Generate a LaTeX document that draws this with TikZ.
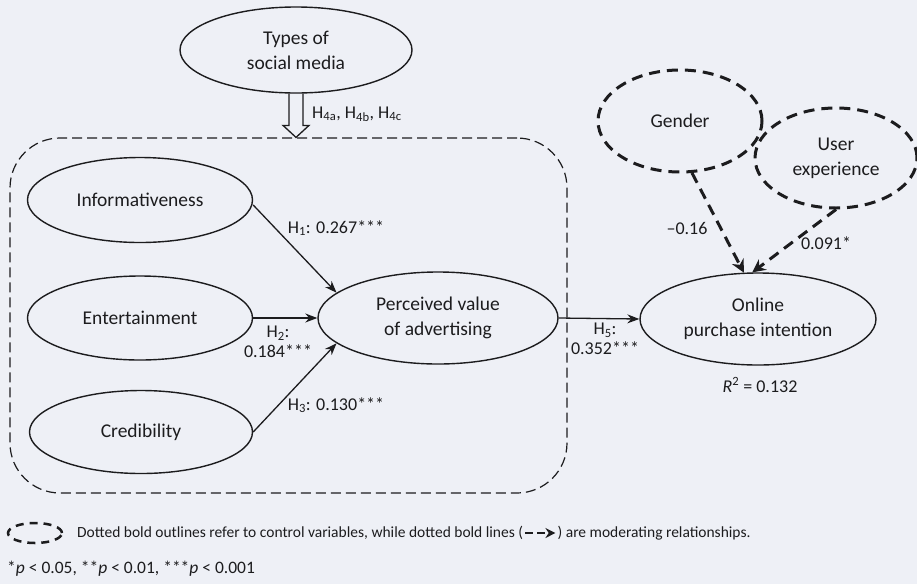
\documentclass[tikz,border=0pt]{standalone}
\usepackage{fontspec}
\setmainfont{Carlito}
\usetikzlibrary{shapes.geometric,arrows.meta,calc}
\definecolor{bgc}{RGB}{238,240,246}
\definecolor{ink}{RGB}{28,28,30}
\begin{document}
\begin{tikzpicture}[x=1pt,y=-1pt,
  every node/.style={text=ink},
  var/.style={ellipse,draw=ink,line width=1.4pt,inner sep=0pt,align=center,
              font=\fontsize{19.5}{25}\selectfont},
  ctrl/.style={ellipse,draw=ink,line width=3pt,dash pattern=on 11pt off 7pt,
               inner sep=0pt,align=center,font=\fontsize{19.5}{25}\selectfont},
  path1/.style={draw=ink,line width=1.3pt,-{Stealth[length=12pt,width=9pt]}},
  modline/.style={draw=ink,line width=3pt,dash pattern=on 11pt off 7pt,
                  -{Stealth[length=13pt,width=13pt]}},
  lab/.style={font=\fontsize{18}{20}\selectfont,inner sep=0pt,align=center},
  small/.style={font=\fontsize{15.5}{17}\selectfont,inner sep=0pt},
]
\fill[bgc] (0,0) rectangle (917,584);
\useasboundingbox (0,0) rectangle (917,584);

% group box
\node[draw=ink,line width=1.2pt,dash pattern=on 10pt off 5pt,rounded corners=50pt,
      minimum width=557pt,minimum height=355pt,inner sep=0pt] (grp) at (288.5,315.5) {};

% nodes
\node[var,minimum width=232pt,minimum height=86pt] (types) at (296,50) {Types of\\social media};
\node[var,minimum width=225pt,minimum height=85pt] (info) at (140,200) {Informativeness};
\node[var,minimum width=225pt,minimum height=84pt] (ent) at (140,318) {Entertainment};
\node[var,minimum width=223pt,minimum height=83pt] (cred) at (141,432) {Credibility};
\node[var,minimum width=240pt,minimum height=92pt] (perc) at (438,318) {Perceived value\\of advertising};
\node[var,minimum width=236pt,minimum height=92pt] (online) at (758,319) {Online\\purchase intention};
\node[ctrl,minimum width=164pt,minimum height=102pt] (gender) at (680,121) {Gender};
\node[ctrl,minimum width=162pt,minimum height=100pt] (ue) at (836,158) {User\\experience};

% hollow arrow H4
\coordinate (h4tip) at (types.south |- grp.north);
\draw[ink,line width=1.3pt,line join=miter]
  ($(types.south)+(-7,0)$) -- ($(h4tip)+(-7,-12)$) -- ($(h4tip)+(-13,-12)$) -- (h4tip)
  -- ($(h4tip)+(13,-12)$) -- ($(h4tip)+(7,-12)$) -- ($(types.south)+(7,0)$);
\node[lab,anchor=west] (h4lab) at (312,114) {H\textsubscript{4a}, H\textsubscript{4b}, H\textsubscript{4c}};

% paths
\draw[path1] (info.east) ++(0,5) coordinate (infostart) (infostart) -- (perc.166);
\draw[path1] (ent.east) -- (perc.west);
\draw[path1] (cred.east) -- (perc.194);
\draw[path1] (perc.east) -- (online.west);

\node[lab] (h1lab) at (336,228) {H\textsubscript{1}: 0.267***};
\node[lab] (h2lab) at (278,342) {H\textsubscript{2}:\\0.184***};
\node[lab] (h3lab) at (336,405) {H\textsubscript{3}: 0.130***};
\node[lab] (h5lab) at (605,339) {H\textsubscript{5}:\\0.352***};

% moderating
\draw[modline] (gender.-77) -- (online.107);
\draw[modline] (ue.south) -- (online.97);
\node[lab] (glab) at (687,228) {\textendash0.16};
\node[lab] (uelab) at (826,243) {0.091*};
\node[lab] (r2) at (760,385) {\textit{R}\textsuperscript{2} = 0.132};

% legend
\node[ellipse,draw=ink,line width=2.5pt,dash pattern=on 8pt off 6pt,
      minimum width=54pt,minimum height=20pt,inner sep=0pt] (legell) at (35,533) {};
\node[small,anchor=west] (legA) at (77,533)
  {Dotted bold outlines refer to control variables, while dotted bold lines (};
\node[small,anchor=west] (legB) at ($(legA.east)+(34,0)$) {) are moderating relationships.};
\draw[draw=ink,line width=2.8pt,dash pattern=on 8pt off 4pt,-{Stealth[length=10pt,width=10pt]}]
  ($(legA.east)+(2,0)$) -- ($(legB.west)+(-2,0)$);
\node[small,anchor=west,font=\fontsize{17.5}{19}\selectfont] (foot) at (7,569)
  {*\textit{p} < 0.05, **\textit{p} < 0.01, ***\textit{p} < 0.001};
\end{tikzpicture}
\end{document}
